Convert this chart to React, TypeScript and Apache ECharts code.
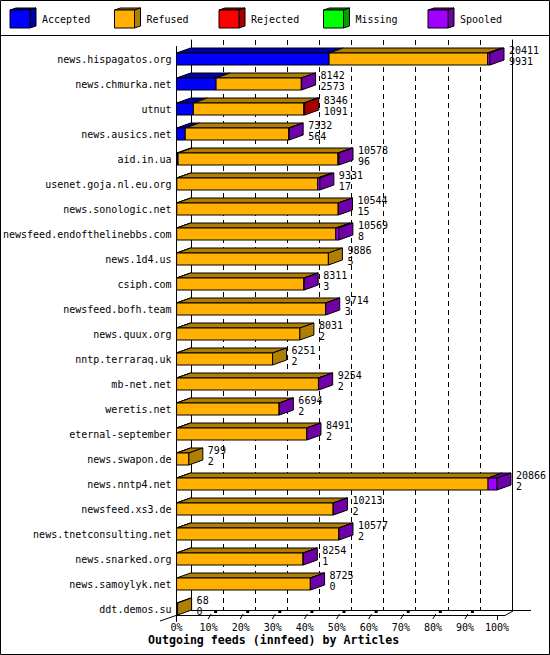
import React, { useEffect, useRef } from "react";
import * as echarts from "echarts";

const hosts = [
  "news.hispagatos.org", "news.chmurka.net", "utnut", "news.ausics.net", "aid.in.ua",
  "usenet.goja.nl.eu.org", "news.sonologic.net", "newsfeed.endofthelinebbs.com", "news.1d4.us",
  "csiph.com", "newsfeed.bofh.team", "news.quux.org", "nntp.terraraq.uk", "mb-net.net",
  "weretis.net", "eternal-september", "news.swapon.de", "news.nntp4.net", "newsfeed.xs3.de",
  "news.tnetconsulting.net", "news.snarked.org", "news.samoylyk.net", "ddt.demos.su",
];
const totals = [20411, 8142, 8346, 7332, 10578, 9331, 10544, 10569, 9886, 8311, 9714, 8031, 6251, 9254, 6694, 8491, 799, 20866, 10213, 10577, 8254, 8725, 68];
const accepted = [9931, 2573, 1091, 564, 96, 17, 15, 8, 5, 3, 3, 2, 2, 2, 2, 2, 2, 2, 2, 2, 1, 0, 0];
const refused = [10320, 5549, 7195, 6748, 10412, 9164, 10509, 10361, 9881, 8293, 9696, 8029, 6249, 9237, 6677, 8474, 797, 20284, 10196, 10560, 8238, 8710, 68];
const rejected = [0, 0, 60, 0, 40, 0, 0, 0, 0, 0, 0, 0, 0, 0, 0, 0, 0, 0, 0, 0, 0, 0, 0];
const missing = [0, 0, 0, 0, 0, 0, 0, 0, 0, 0, 0, 0, 0, 0, 0, 0, 0, 0, 0, 0, 0, 0, 0];
const spooled = [160, 20, 0, 20, 30, 150, 20, 200, 0, 15, 15, 0, 0, 15, 15, 15, 0, 580, 15, 15, 15, 15, 0];

const segNames = ["Accepted", "Refused", "Rejected", "Missing", "Spooled"];
const segValues = [accepted, refused, rejected, missing, spooled];
const frontColors = ["#0000ff", "#ffb000", "#ff0000", "#00ff00", "#a000ff"];
const darkColors = ["#0000a8", "#b07e00", "#a80000", "#00a000", "#7000a8"];

const FONT = "DejaVu Sans Mono";
const GL = 176, GT = 46.5, GW = 321, GH = 575;
const DX = 14, DY = 5, BH = 12;

export default function App() {
  const ref = useRef<HTMLDivElement>(null);
  useEffect(() => {
    if (!ref.current) return;
    const chart = echarts.init(ref.current, null, { renderer: "svg" });
    const maxTotal = Math.max(...totals);
    const pct = (v: number) => (v / maxTotal) * 100;

    // last non-zero segment per row
    const lastSeg = hosts.map((_, i) => {
      let l = -1;
      segValues.forEach((arr, s) => { if (arr[i] > 0) l = s; });
      return l;
    });
    const starts = hosts.map(() => 0);
    const segSeries = segNames.map((name, s) => {
      const data = hosts.map((_, i) => {
        const st = starts[i];
        const en = st + segValues[s][i];
        starts[i] = en;
        return [pct(st), i, pct(en), lastSeg[i] === s ? 1 : 0, segValues[s][i]];
      });
      return {
        type: "custom",
        name,
        xAxisIndex: 0,
        yAxisIndex: 0,
        encode: { x: [0, 2], y: 1 },
        data,
        renderItem: (params: any, api: any) => {
          const v = api.value(4);
          if (!(v > 0)) return null;
          const c = api.value(1);
          const p0 = api.coord([api.value(0), c]);
          const p1 = api.coord([api.value(2), c]);
          const x0 = p0[0], x1 = p1[0];
          const top = p0[1] - BH / 2, bot = p0[1] + BH / 2;
          const children: any[] = [
            {
              type: "polygon",
              shape: { points: [[x0, top], [x1, top], [x1 + DX, top - DY], [x0 + DX, top - DY]] },
              style: { fill: darkColors[s], stroke: "#000", lineWidth: 1 },
            },
            {
              type: "rect",
              shape: { x: x0, y: top, width: x1 - x0, height: BH },
              style: { fill: frontColors[s], stroke: "#000", lineWidth: 1 },
            },
          ];
          if (api.value(3) === 1) {
            children.push({
              type: "polygon",
              shape: { points: [[x1, top], [x1 + DX, top - DY], [x1 + DX, bot - DY], [x1, bot]] },
              style: { fill: darkColors[s], stroke: "#000", lineWidth: 1 },
            });
          }
          return { type: "group", children };
        },
      };
    });

    const labelSeries = {
      type: "custom",
      name: "labels",
      xAxisIndex: 0,
      yAxisIndex: 0,
      encode: { x: 0, y: 1 },
      data: hosts.map((_, i) => [pct(totals[i]), i, totals[i], accepted[i]]),
      renderItem: (params: any, api: any) => {
        const p = api.coord([api.value(0), api.value(1)]);
        return {
          type: "text",
          style: {
            text: `${api.value(2)}\n${api.value(3)}`,
            x: p[0] + DX + 5,
            y: p[1] - 3.5,
            font: `10px '${FONT}'`,
            lineHeight: 11,
            verticalAlign: "middle",
            align: "left",
            fill: "#000",
          },
        };
      },
    };

    const graphics: any[] = [
      { type: "rect", shape: { x: 0.5, y: 0.5, width: 549, height: 654 }, style: { fill: "none", stroke: "#000", lineWidth: 1 }, silent: true },
      { type: "line", shape: { x1: 0, y1: 35.5, x2: 550, y2: 35.5 }, style: { stroke: "#000", lineWidth: 1 } },
      // floor
      { type: "line", shape: { x1: GL, y1: 615.5, x2: 505, y2: 615.5 }, style: { stroke: "#000", lineWidth: 1 } },
      { type: "line", shape: { x1: 191, y1: 610.5, x2: 531, y2: 610.5 }, style: { stroke: "#000", lineWidth: 1 } },
      { type: "line", shape: { x1: 505, y1: 615.5, x2: 513, y2: 611 }, style: { stroke: "#000", lineWidth: 1 } },
      { type: "line", shape: { x1: 160, y1: 621, x2: GL, y2: 615.5 }, style: { stroke: "#000", lineWidth: 1 } },
      { type: "line", shape: { x1: GL + GW + 0.5, y1: 615, x2: GL + GW + 0.5, y2: 620 }, style: { stroke: "#000", lineWidth: 1 } },
    ];
    for (let k = 1; k <= 9; k++) {
      const xf = GL + (GW * k) / 10;
      graphics.push({ type: "line", shape: { x1: xf, y1: 619, x2: xf + 3, y2: 614 }, style: { stroke: "#000", lineWidth: 1 } });
      graphics.push({ type: "rect", shape: { x: xf + 6, y: 610, width: 3, height: 3 }, style: { fill: "#000" } });
    }
    segNames.forEach((name, s) => {
      const x = 10 + 104.5 * s;
      graphics.push({
        type: "polygon",
        shape: { points: [[x, 10], [x + 20, 10], [x + 26, 8], [x + 6, 8]] },
        style: { fill: darkColors[s], stroke: "#000", lineWidth: 1 },
      });
      graphics.push({
        type: "polygon",
        shape: { points: [[x + 20, 10], [x + 26, 8], [x + 26, 26], [x + 20, 28]] },
        style: { fill: darkColors[s], stroke: "#000", lineWidth: 1 },
      });
      graphics.push({
        type: "rect",
        shape: { x, y: 10, width: 20, height: 18 },
        style: { fill: frontColors[s], stroke: "#000", lineWidth: 1 },
      });
      graphics.push({
        type: "text",
        style: { text: name, x: x + 32, y: 19.5, font: `10px '${FONT}'`, verticalAlign: "middle", fill: "#000" },
      });
    });

    chart.setOption({
      animation: false,
      backgroundColor: "#fff",
      title: {
        text: "Outgoing feeds (innfeed) by Articles",
        left: 148,
        top: 634,
        padding: 0,
        textStyle: { fontFamily: FONT, fontWeight: "bold", fontSize: 11.6, color: "#000" },
      },
      grid: [
        { left: GL, top: GT, width: GW, height: GH },
        { left: 191, top: 40, width: 321, height: 570 },
      ],
      xAxis: [
        {
          gridIndex: 0, type: "value", min: 0, max: 100, interval: 10,
          axisLine: { show: false }, axisTick: { show: false }, splitLine: { show: false },
          axisLabel: { formatter: "{value}%", fontFamily: FONT, fontSize: 10, color: "#000", margin: 1 },
        },
        {
          gridIndex: 1, type: "value", min: 0, max: 100, interval: 10,
          axisLine: { show: false }, axisTick: { show: false }, axisLabel: { show: false },
          splitLine: { show: true, showMinLine: false, showMaxLine: false, lineStyle: { color: "#000", width: 1, type: [5, 4] } },
        },
      ],
      yAxis: [
        {
          gridIndex: 0, type: "category", data: hosts, inverse: true,
          axisLine: { show: true, onZero: false, lineStyle: { color: "#000", width: 1 } },
          axisTick: { show: false }, splitLine: { show: false },
          axisLabel: { fontFamily: FONT, fontSize: 10, color: "#000", margin: 5 },
        },
        {
          gridIndex: 1, type: "value", min: 0, max: 1, position: "left",
          axisLine: { show: true, onZero: false, lineStyle: { color: "#000", width: 1 } },
          axisTick: { show: false }, axisLabel: { show: false }, splitLine: { show: false },
        },
        {
          gridIndex: 1, type: "value", min: 0, max: 1, position: "right",
          axisLine: { show: true, onZero: false, lineStyle: { color: "#000", width: 1 } },
          axisTick: { show: false }, axisLabel: { show: false }, splitLine: { show: false },
        },
      ],
      graphic: graphics,
      series: [...segSeries, labelSeries],
    } as any);
    return () => chart.dispose();
  }, []);
  return <div ref={ref} style={{ position: "absolute", left: 0, top: 0, width: 550, height: 655 }} />;
}
